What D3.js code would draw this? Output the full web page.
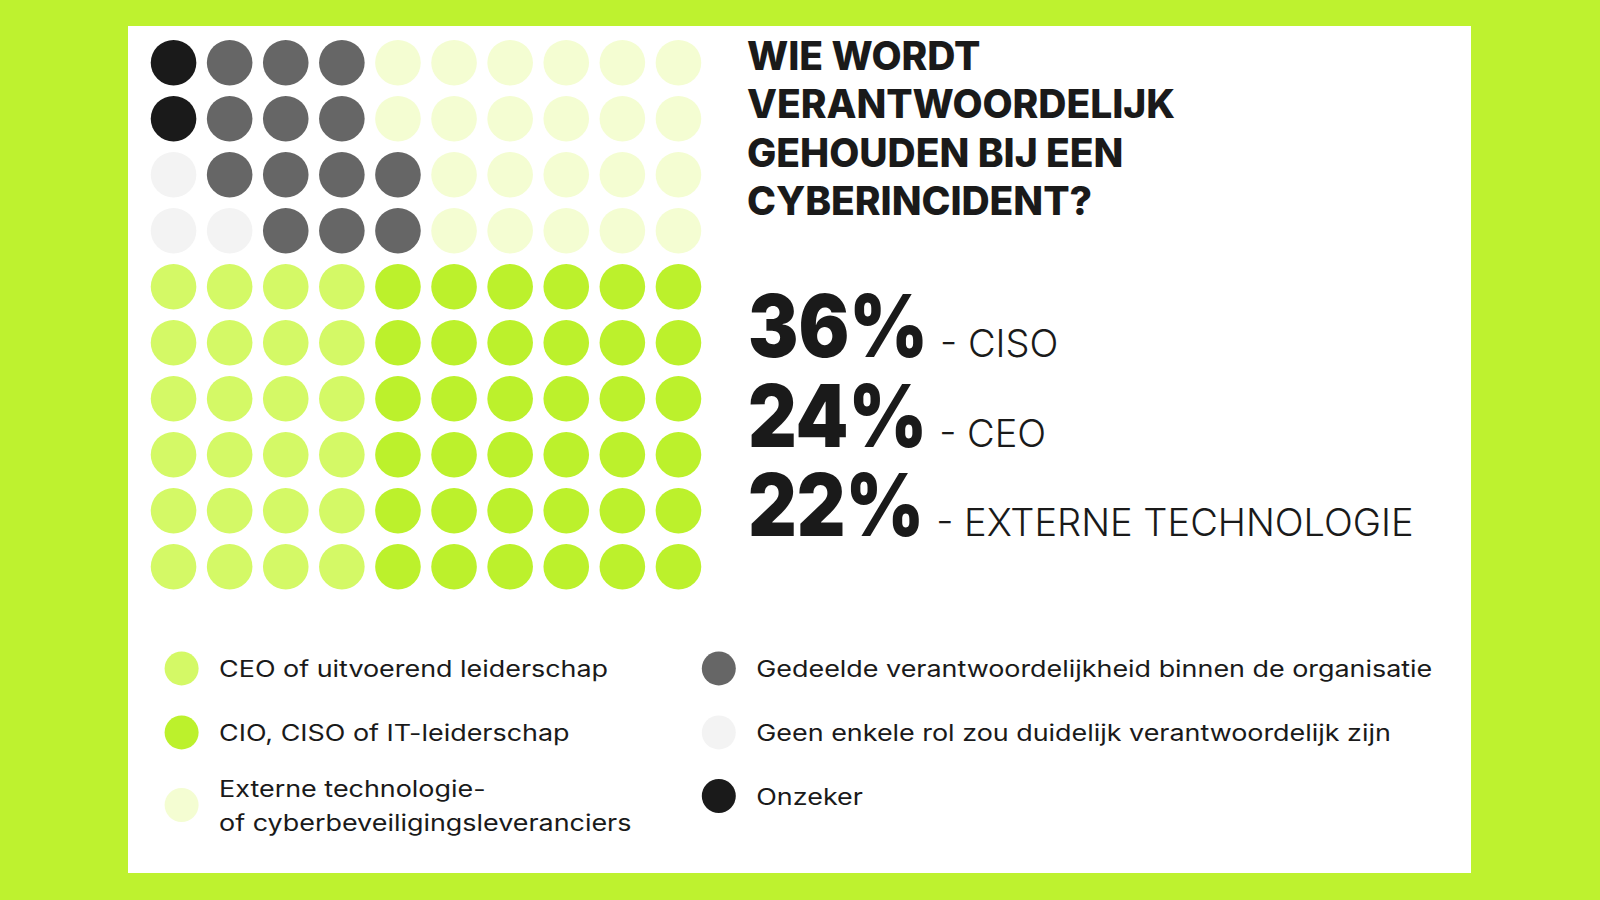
<!DOCTYPE html>
<html><head><meta charset="utf-8">
<script src="https://cdn.jsdelivr.net/npm/d3@7"></script>
<style>html,body{margin:0;padding:0;background:#bef22f;} svg{display:block;}</style>
</head><body>
<svg id="chart" width="1600" height="900"></svg>
<script>
// ---------- DATA ----------
const categories = [
  "CEO of uitvoerend leiderschap",
  "CIO, CISO of IT-leiderschap",
  "Externe technologie-\nof cyberbeveiligingsleveranciers",
  "Gedeelde verantwoordelijkheid binnen de organisatie",
  "Geen enkele rol zou duidelijk verantwoordelijk zijn",
  "Onzeker"
];
const values = [24, 36, 22, 13, 3, 2];
const colors = ["#d4f966", "#bcf12c", "#f4fdd2", "#666666", "#f3f3f3", "#1a1a1a"];
// how many dots of each category (index into categories) sit in each row, left to right
const rowSegments = [
  [[5, 1], [3, 3], [2, 6]],
  [[5, 1], [3, 3], [2, 6]],
  [[4, 1], [3, 4], [2, 5]],
  [[4, 2], [3, 3], [2, 5]],
  [[0, 4], [1, 6]],
  [[0, 4], [1, 6]],
  [[0, 4], [1, 6]],
  [[0, 4], [1, 6]],
  [[0, 4], [1, 6]],
  [[0, 4], [1, 6]]
];
const titleLines = ["WIE WORDT", "VERANTWOORDELIJK", "GEHOUDEN BIJ EEN", "CYBERINCIDENT?"];
const highlightValues = ["36%", "24%", "22%"];
const highlightLabels = ["CISO", "CEO", "EXTERNE TECHNOLOGIE"];
const legendColumns = [[0, 1, 2], [3, 4, 5]];

// ---------- DRAW ----------
const ink = "#1a1a1a";
const font = "Inter, 'Noto Sans', sans-serif";
const svg = d3.select("#chart");
svg.append("rect").attr("width", 1600).attr("height", 900).attr("fill", "#bef22f");
svg.append("rect").attr("x", 128).attr("y", 26).attr("width", 1343).attr("height", 847).attr("fill", "#ffffff");

// waffle cells
const cells = [];
rowSegments.forEach((segs, r) => {
  let c = 0;
  segs.forEach(([cat, n]) => { for (let k = 0; k < n; k++) cells.push({ row: r, col: c++, cat }); });
});
const x = d3.scaleBand().domain(d3.range(10)).range([145.5, 706.5]);
const y = d3.scaleBand().domain(d3.range(10)).range([34.7, 594.7]);
svg.append("g").selectAll("circle").data(cells).join("circle")
  .attr("cx", d => x(d.col) + x.bandwidth() / 2)
  .attr("cy", d => y(d.row) + y.bandwidth() / 2)
  .attr("r", 22.8)
  .attr("fill", d => colors[d.cat]);

function measure(sel, s) {
  const t = sel.append("text").text(s);
  const w = t.node().getComputedTextLength();
  t.remove();
  return w;
}

// title
const title = svg.append("g").attr("font-family", font).attr("font-weight", 800)
  .attr("font-size", 39).attr("fill", ink);
const tls = (428 - measure(title, "VERANTWOORDELIJK")) / 16;
const titleY = d3.scalePoint().domain(d3.range(titleLines.length)).range([69.5, 215]);
title.selectAll("text").data(titleLines).join("text")
  .attr("x", 747).attr("y", (d, i) => titleY(i))
  .attr("letter-spacing", tls).text(d => d);

// highlights
const hlY = d3.scalePoint().domain(d3.range(highlightValues.length)).range([357, 536]);
const hl = svg.append("g").attr("fill", ink).attr("font-family", font);
const numG = hl.append("g").attr("font-weight", 900).attr("font-size", 86);
const nRatio = 180 / measure(numG, "36%");
highlightValues.forEach((v, i) => {
  const w = measure(numG, v) * nRatio;
  numG.append("text").attr("x", 748).attr("y", hlY(i))
    .attr("textLength", w).attr("lengthAdjust", "spacingAndGlyphs").text(v);
  hl.append("text").attr("x", 748 + w + 12).attr("y", hlY(i))
    .attr("font-weight", 300).attr("font-size", 38)
    .text("- " + highlightLabels[i]);
});

// legend
const legend = svg.append("g").attr("font-family", font).attr("font-size", 22.4)
  .attr("font-weight", 400).attr("fill", ink);
const lRatio = 676 / measure(legend, categories[3]);
const colX = [181.6, 718.8];
const rowY = [668.4, 732.4, 796];
legendColumns.forEach((col, ci) => {
  col.forEach((cat, ri) => {
    const lines = categories[cat].split("\n");
    const cy = lines.length > 1 ? 805 : rowY[ri];
    legend.append("circle").attr("cx", colX[ci]).attr("cy", cy).attr("r", 17).attr("fill", colors[cat]);
    lines.forEach((ln, li) => {
      const w = measure(legend, ln) * lRatio;
      legend.append("text").attr("x", colX[ci] + 37.5)
        .attr("y", cy + 8.5 + (li - (lines.length - 1) / 2) * 34)
        .attr("textLength", w).attr("lengthAdjust", "spacingAndGlyphs")
        .text(ln);
    });
  });
});
</script>
</body></html>
